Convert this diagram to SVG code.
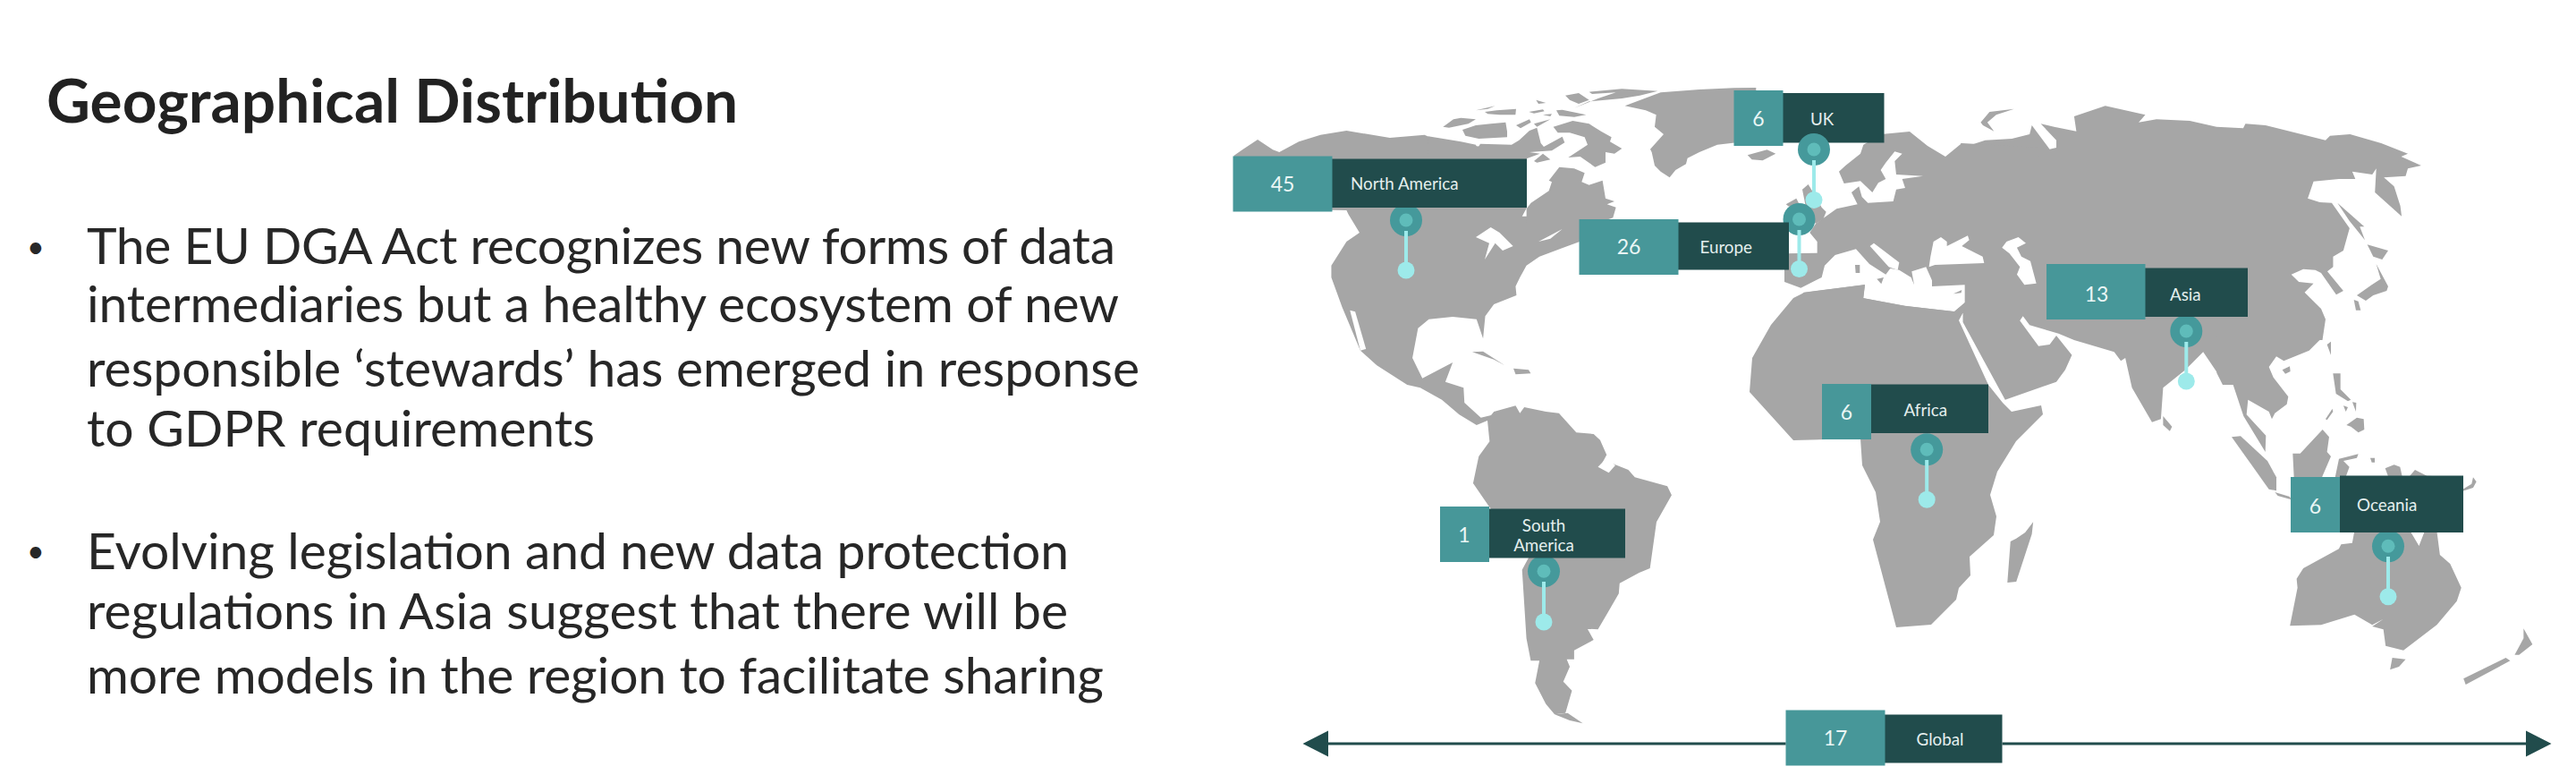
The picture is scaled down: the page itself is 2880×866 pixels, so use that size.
<svg xmlns="http://www.w3.org/2000/svg" width="2880" height="866" viewBox="0 0 2880 866">
<style>
text{font-family:Lato,"Liberation Sans",sans-serif}
.land{fill:#a6a6a6}
.sea{fill:#fff}
.t{fill:#272727;font-size:57px}
.b{fill:#272727;font-size:34px}
.n{fill:#eaf6f5;font-size:23px;text-anchor:middle}
.l{fill:#e4efee;font-size:18.8px}
.teal{fill:#479799}
.dark{fill:#214c4c}
.halo{fill:#45999b}
.core{fill:#5fbcba}
.tip{fill:#9deaea}
.stem{stroke:#9deaea;stroke-width:4;fill:none}
.axis{stroke:#214c4c;stroke-width:3;fill:none}
</style>
<defs>
<marker id="ah" markerUnits="userSpaceOnUse" markerWidth="30" markerHeight="30" refX="0" refY="15" orient="auto-start-reverse"><path d="M0,0.500 L28.500,15 L0,29.500 z" fill="#214c4c"/></marker>
</defs>
<rect width="2880" height="866" fill="#fff"/>
<g id="copy">
<text x="52" y="137" font-size="67.500" font-weight="700" fill="#222">Geographical Distribution</text>
<text class="b" x="30" y="288">•</text>
<text class="t" x="97" y="294.500" textLength="1150">The EU DGA Act recognizes new forms of data</text>
<text class="t" x="97" y="360" textLength="1154">intermediaries but a healthy ecosystem of new</text>
<text class="t" x="97" y="431.500" textLength="1177">responsible ‘stewards’ has emerged in response</text>
<text class="t" x="97" y="499" textLength="568">to GDPR requirements</text>
<text class="b" x="30" y="628">•</text>
<text class="t" x="97" y="636" textLength="1098">Evolving legislation and new data protection</text>
<text class="t" x="97" y="702.500" textLength="1097">regulations in Asia suggest that there will be</text>
<text class="t" x="97" y="774.500" textLength="1137">more models in the region to facilitate sharing</text>
</g>
<g id="map">
<g class="land" transform="translate(2100,80) scale(.4975,.3333)">
<path d="M185,240 L200,250 L240,230 L300,225 L340,210 L345,180 L385,260 L400,255 L400,230 L365,175 L395,185 L445,200 L440,150 L510,115 L600,145 L585,170 L625,160 L700,165 L760,185 L820,190 L825,175 L870,180 L1005,230 L1015,215 L1060,210 L1130,240 L1190,275 L1175,285 L1220,315 L1190,325 L1185,350 L1136,355 L1159,385 L1173,450 L1176,485 L1116,405 L1119,325 L1110,345 L1065,335 L1072,360 L1035,360 L978,368 L965,425 L992,438 L1019,440 L1059,525 L1045,600 L1022,620 L1022,655 L1009,670 L1045,735 L1029,748 L995,675 L982,665 L955,662 L928,680 L945,705 L978,710 L958,740 L995,795 L1005,830 L998,900 L780,905 L780,1050 L730,940 L690,1000 L640,1060 L635,1165 L615,1175 L570,1060 L555,960 L545,970 L530,940 L440,900 L405,878 L340,850 L325,820 L318,835 L360,920 L385,915 L400,885 L435,950 L420,1000 L400,1040 L285,1100 L190,840 L190,500 L185,300 z"/>
<path d="M230,170 L250,135 L305,125 L265,145 L245,170 L260,200 L235,180 z"/>
<path d="M640,1155 L660,1190 L655,1205 L640,1185 z"/>
</g>
<g class="land" transform="translate(2480,190) scale(.3333)">
<path d="M400,110 L490,190 L475,190 L492,235 L440,170 z"/>
<path d="M500,250 L570,270 L550,300 L520,290 z"/>
<path d="M530,315 L570,390 L565,405 L520,420 L495,438 L465,420 L515,385 L545,365 z"/>
<path d="M455,435 L470,440 L478,470 L462,470 z"/>
</g>
<g transform="translate(1980,170) scale(.3333)">
<path class="land" d="M270,135 L295,115 L305,150 L325,170 L410,165 L420,125 L450,120 L440,90 L510,80 L420,75 L415,30 L440,5 L415,-2 L385,35 L368,60 L385,90 L360,103 L340,135 L300,97 L245,105 L228,65 L250,45 L300,5 L310,-25 L370,-60 L465,-69 L525,-21 L585,15 L640,-30 L900,-15 L900,540 L45,540 L45,340 L155,338 L155,300 L130,270 L150,240 L220,190 L290,175 z"/>
<path class="land" d="M105,125 L125,108 L138,130 L170,185 L185,200 L175,225 L150,240 L120,200 z"/>
<path class="land" d="M50,175 L85,155 L95,175 L60,182 z"/>
<path class="sea" d="M20,435 L45,435 L100,455 L170,420 L180,380 L215,345 L285,325 L330,375 L385,410 L400,390 L430,395 L470,420 L480,445 L472,400 L520,385 L540,430 L540,450 L650,445 L650,505 L615,535 L450,515 L310,490 L315,445 L110,470 L40,540 L20,540 z"/>
<path class="sea" d="M332,315 L345,305 L430,370 L425,395 L395,385 z"/>
<path class="sea" d="M545,300 L570,285 L590,300 L590,315 L620,300 L660,280 L665,295 L640,315 L710,350 L715,372 L550,378 L530,385 L535,350 z"/>
<path class="sea" d="M775,320 L790,300 L830,285 L855,305 L825,320 L840,350 L870,365 L890,440 L850,445 L825,410 L835,385 L800,340 z"/>
<path class="land" d="M282,378 L298,378 L298,405 L284,405 z"/>
<path class="land" d="M355,425 L378,420 L370,442 z"/>
<path class="land" d="M612,475 L640,462 L638,472 z"/>
</g>
<path class="land" d="M1956,438 L1959,400 L1980,363 L2005,333 L2017,327 L2085,318 L2083,333 L2130,342 L2185,348 L2197,338 L2197,345 L2190,358 L2223,430 L2239,450 L2249,460 L2282,453 L2284,463 L2254,493 L2233,527 L2225,553 L2232,577 L2229,598 L2202,622 L2203,643 L2190,657 L2187,670 L2159,698 L2120,701 L2094,603 L2102,583 L2097,550 L2082,520 L2080,490 L2005,492 z"/>
<g transform="translate(2480,380) scale(.3333)">
<g class="land">
<path d="M-5,-10 L350,-10 L305,35 L220,70 L195,55 L170,90 L185,125 L235,190 L230,215 L190,245 L180,265 L170,240 L100,200 L95,250 L160,320 L158,375 L85,255 L50,150 L15,150 L-5,110 z"/>
<path d="M365,15 L378,5 L378,50 z"/>
<path d="M215,100 L240,88 L242,105 L225,113 z"/>
<path d="M45,325 L75,322 L165,405 L195,460 L195,505 L170,500 L120,430 z"/>
<path d="M190,510 L240,525 L245,535 L200,522 z"/>
<path d="M250,380 L275,380 L350,300 L372,325 L365,375 L378,390 L350,455 L340,480 L255,480 z"/>
<path d="M385,112 L410,112 L410,165 L445,200 L435,205 L395,180 z"/>
<path d="M420,220 L435,225 L428,240 z"/>
<path d="M450,208 L463,210 L462,240 z"/>
<path d="M430,285 L465,260 L488,265 L490,300 L470,310 L445,290 z"/>
<path d="M360,265 L383,230 L385,240 L365,268 z"/>
<path d="M388,480 L405,398 L470,382 L465,395 L420,405 L440,425 L420,480 z"/>
<path d="M510,395 L525,395 L525,410 L515,410 z"/>
<path d="M560,430 L590,418 L610,425 L620,470 L575,470 z"/>
<path d="M630,470 L660,435 L700,455 L820,460 L820,480 L630,480 z"/>
<path d="M820,500 L850,482 L855,460 L866,475 L855,495 L820,506 z"/>
</g>
</g>
<g transform="translate(1360,80) scale(.4847,.3333)">
<path class="land" d="M40,282 L60,262 L95,228 L130,262 L145,270 L190,235 L240,212 L300,198 L400,222 L480,212 L520,238 L600,250 L716,270 L716,456 L705,485 L725,485 L780,470 L840,495 L838,570 L800,590 L745,620 L715,650 L700,690 L690,720 L692,750 L640,780 L620,820 L615,895 L600,830 L545,822 L490,830 L465,860 L452,960 L475,1028 L545,975 L528,1040 L570,1060 L572,1110 L610,1160 L640,1150 L640,1170 L625,1170 L600,1185 L560,1150 L520,1100 L470,1060 L440,1050 L370,985 L332,935 L290,790 L265,690 L265,650 L300,570 L330,540 L305,480 L300,465 L100,460 z"/>
<path class="sea" d="M308,800 L320,805 L345,930 L332,935 z"/>
<path class="land" d="M590,940 L615,938 L665,985 L640,965 z"/>
<path class="land" d="M685,995 L720,1000 L725,1012 L690,1015 z"/>
<path class="land" d="M1225,280 L1270,262 L1290,275 L1260,298 L1235,295 z"/>
</g>
<g transform="translate(1600,90) scale(.3333)">
<g class="land">
<path d="M-10,187 L100,205 L150,215 L155,228 L165,212 L270,215 L295,200 L330,168 L355,158 L368,210 L378,222 L440,188 L448,208 L405,235 L330,240 L365,245 L320,262 L-10,262 z"/>
<path d="M40,155 L75,130 L100,125 L150,130 L125,145 L60,158 z"/>
<path d="M105,165 L150,150 L200,145 L250,140 L255,170 L255,190 L160,195 L115,185 z"/>
<path d="M180,105 L220,100 L285,95 L283,115 L230,115 L190,112 z"/>
<path d="M150,100 L215,85 L190,95 z"/>
<path d="M285,150 L330,130 L335,140 L300,160 z"/>
<path d="M328,105 L375,97 L380,103 L345,110 z"/>
<path d="M352,65 L385,75 L360,78 z"/>
<path d="M375,115 L405,112 L400,120 z"/>
<path d="M420,100 L440,98 L520,115 L480,122 L430,118 z"/>
<path d="M345,145 L400,130 L355,155 z"/>
<path d="M450,50 L495,42 L530,65 L495,78 L465,65 z"/>
<path d="M530,38 L640,28 L760,35 L700,50 L640,60 L530,70 L480,92 L560,60 L620,40 L540,45 z"/>
<path d="M410,155 L475,135 L530,145 L570,170 L605,190 L600,205 L640,228 L615,245 L585,240 L585,275 L550,290 L500,255 L460,258 L525,215 L515,190 L465,175 L425,175 z"/>
<path d="M345,270 L375,245 L400,265 L355,275 z"/>
<path d="M650,85 L770,40 L900,30 L1015,25 L1090,24 L1090,200 L960,215 L900,240 L860,260 L855,280 L820,300 L800,325 L770,305 L750,285 L740,240 L735,230 L780,180 L750,155 L755,115 L720,100 z"/>
<path d="M320,430 L335,410 L395,370 L405,340 L395,335 L430,290 L480,295 L515,310 L505,340 L530,350 L575,335 L585,395 L615,405 L590,415 L620,425 L610,460 L580,470 L500,480 L320,480 z"/>
</g>
<path class="sea" d="M360,540 L440,498 L400,530 z"/>
<path class="sea" d="M150,525 L200,492 L230,510 L275,555 L240,570 L215,545 L180,600 L195,545 z"/>
</g>
<g transform="translate(1360,450) scale(.4847,.3333)">
<path class="land" d="M625,58 L640,30 L690,10 L700,35 L710,15 L760,30 L790,35 L830,100 L870,105 L885,125 L900,175 L885,215 L915,205 L950,225 L965,250 L1040,280 L1050,310 L1015,400 L1000,555 L975,570 L930,605 L928,640 L900,710 L880,760 L855,758 L845,730 L870,795 L825,830 L825,860 L808,860 L815,885 L800,935 L820,965 L805,1040 L780,1045 L760,1010 L735,940 L745,865 L725,865 L715,790 L705,560 L720,520 L630,350 L592,270 L605,180 L630,130 z"/>
<path class="land" d="M780,1045 L810,1040 L845,1075 L815,1065 z"/>
<path class="sea" d="M880,215 L900,185 L920,210 L905,235 z"/>
</g>
<g class="land" transform="translate(2100,450) scale(.4975,.3333)">
<path d="M348,400 L345,440 L310,600 L290,603 L297,465 L310,455 L330,435 z"/>
<path d="M925,748 L942,620 L940,590 L955,555 L1035,490 L1040,475 L1065,470 L1070,430 L1195,430 L1215,480 L1228,430 L1255,430 L1262,510 L1285,540 L1310,620 L1300,665 L1255,745 L1180,830 L1140,815 L1135,760 L1110,750 L1135,725 L1110,745 L1070,710 L995,745 z"/>
<path d="M1155,855 L1185,860 L1170,885 L1150,895 z"/>
<path d="M1450,757 L1470,810 L1440,845 L1430,845 L1450,790 z"/>
<path d="M1410,855 L1420,865 L1320,945 L1315,925 z"/>
</g>
</g>
<g id="north-america">
<circle class="halo" cx="1572" cy="246" r="18"/><circle class="core" cx="1572" cy="246" r="7.500"/><circle class="tip" cx="1572" cy="302" r="9.500"/>
<rect class="dark" x="1489" y="177.500" width="218" height="54.500"/><rect class="teal" x="1378.500" y="174.500" width="111" height="62"/>
<text class="n" x="1434" y="214">45</text><text class="l" x="1510" y="212">North America</text>
</g>
<g id="uk">
<rect class="dark" x="1993" y="104" width="113.500" height="55.500"/><rect class="teal" x="1938.500" y="101" width="55" height="62"/>
<circle class="halo" cx="2028" cy="167" r="18"/><circle class="core" cx="2028" cy="167" r="7.500"/><circle class="tip" cx="2028" cy="223.500" r="9.500"/>
<text class="n" x="1966" y="141">6</text><text class="l" x="2024" y="140">UK</text>
</g>
<g id="europe">
<circle class="halo" cx="2011.500" cy="245" r="18"/><circle class="core" cx="2011.500" cy="245" r="7.500"/><circle class="tip" cx="2011.500" cy="300.500" r="9.500"/>
<rect class="dark" x="1876" y="248.500" width="124" height="53"/><rect class="teal" x="1765.500" y="245" width="111" height="62"/>
<text class="n" x="1821" y="284">26</text><text class="l" x="1900.500" y="283">Europe</text>
</g>
<g id="asia">
<circle class="halo" cx="2444.300" cy="370" r="18"/><circle class="core" cx="2444.300" cy="370" r="7.500"/><circle class="tip" cx="2444.300" cy="426" r="9.500"/>
<rect class="dark" x="2398" y="299.500" width="115" height="54.500"/><rect class="teal" x="2288" y="295" width="110.500" height="62"/>
<text class="n" x="2344" y="337">13</text><text class="l" x="2426" y="336">Asia</text>
</g>
<g id="africa">
<circle class="halo" cx="2154.200" cy="502.300" r="18"/><circle class="core" cx="2154.200" cy="502.300" r="7.500"/><circle class="tip" cx="2154.200" cy="558.300" r="9.500"/>
<rect class="dark" x="2092" y="429.500" width="131" height="54.500"/><rect class="teal" x="2037" y="429" width="55" height="62"/>
<text class="n" x="2064.500" y="469">6</text><text class="l" x="2128.500" y="464.500">Africa</text>
</g>
<g id="south-america">
<circle class="halo" cx="1726" cy="638.300" r="18"/><circle class="core" cx="1726" cy="638.300" r="7.500"/><circle class="tip" cx="1726" cy="695" r="9.500"/>
<rect class="dark" x="1665" y="568.500" width="152" height="55"/><rect class="teal" x="1610" y="566" width="55" height="62"/>
<text class="n" x="1637" y="606">1</text><text class="l" x="1726" y="593.500" text-anchor="middle">South</text><text class="l" x="1726" y="616" text-anchor="middle">America</text>
</g>
<g id="oceania">
<circle class="halo" cx="2670" cy="610.300" r="18"/><circle class="core" cx="2670" cy="610.300" r="7.500"/><circle class="tip" cx="2670" cy="666.700" r="9.500"/>
<rect class="dark" x="2616" y="531.500" width="138" height="63.500"/><rect class="teal" x="2561" y="533" width="55" height="62"/>
<text class="n" x="2588.500" y="574">6</text><text class="l" x="2635" y="571">Oceania</text>
</g>
<g id="global">
<rect class="dark" x="2107" y="798.500" width="131.500" height="54"/><rect class="teal" x="1996.500" y="793.500" width="111" height="62"/>
<text class="n" x="2052" y="833">17</text><text class="l" x="2142.500" y="833">Global</text>
</g>
<g id="connectors">
<line class="stem" x1="1572" y1="258" x2="1572" y2="296"/>
<line class="stem" x1="2028" y1="179" x2="2028" y2="218"/>
<line class="stem" x1="2011.500" y1="257" x2="2011.500" y2="295"/>
<line class="stem" x1="2444.300" y1="382" x2="2444.300" y2="420"/>
<line class="stem" x1="2154.200" y1="514" x2="2154.200" y2="552"/>
<line class="stem" x1="1726" y1="650" x2="1726" y2="689"/>
<line class="stem" x1="2670" y1="622" x2="2670" y2="661"/>
<line class="axis" x1="1996.500" y1="831" x2="1485" y2="831" marker-end="url(#ah)"/>
<line class="axis" x1="2238.500" y1="831" x2="2824" y2="831" marker-end="url(#ah)"/>
</g>
</svg>
